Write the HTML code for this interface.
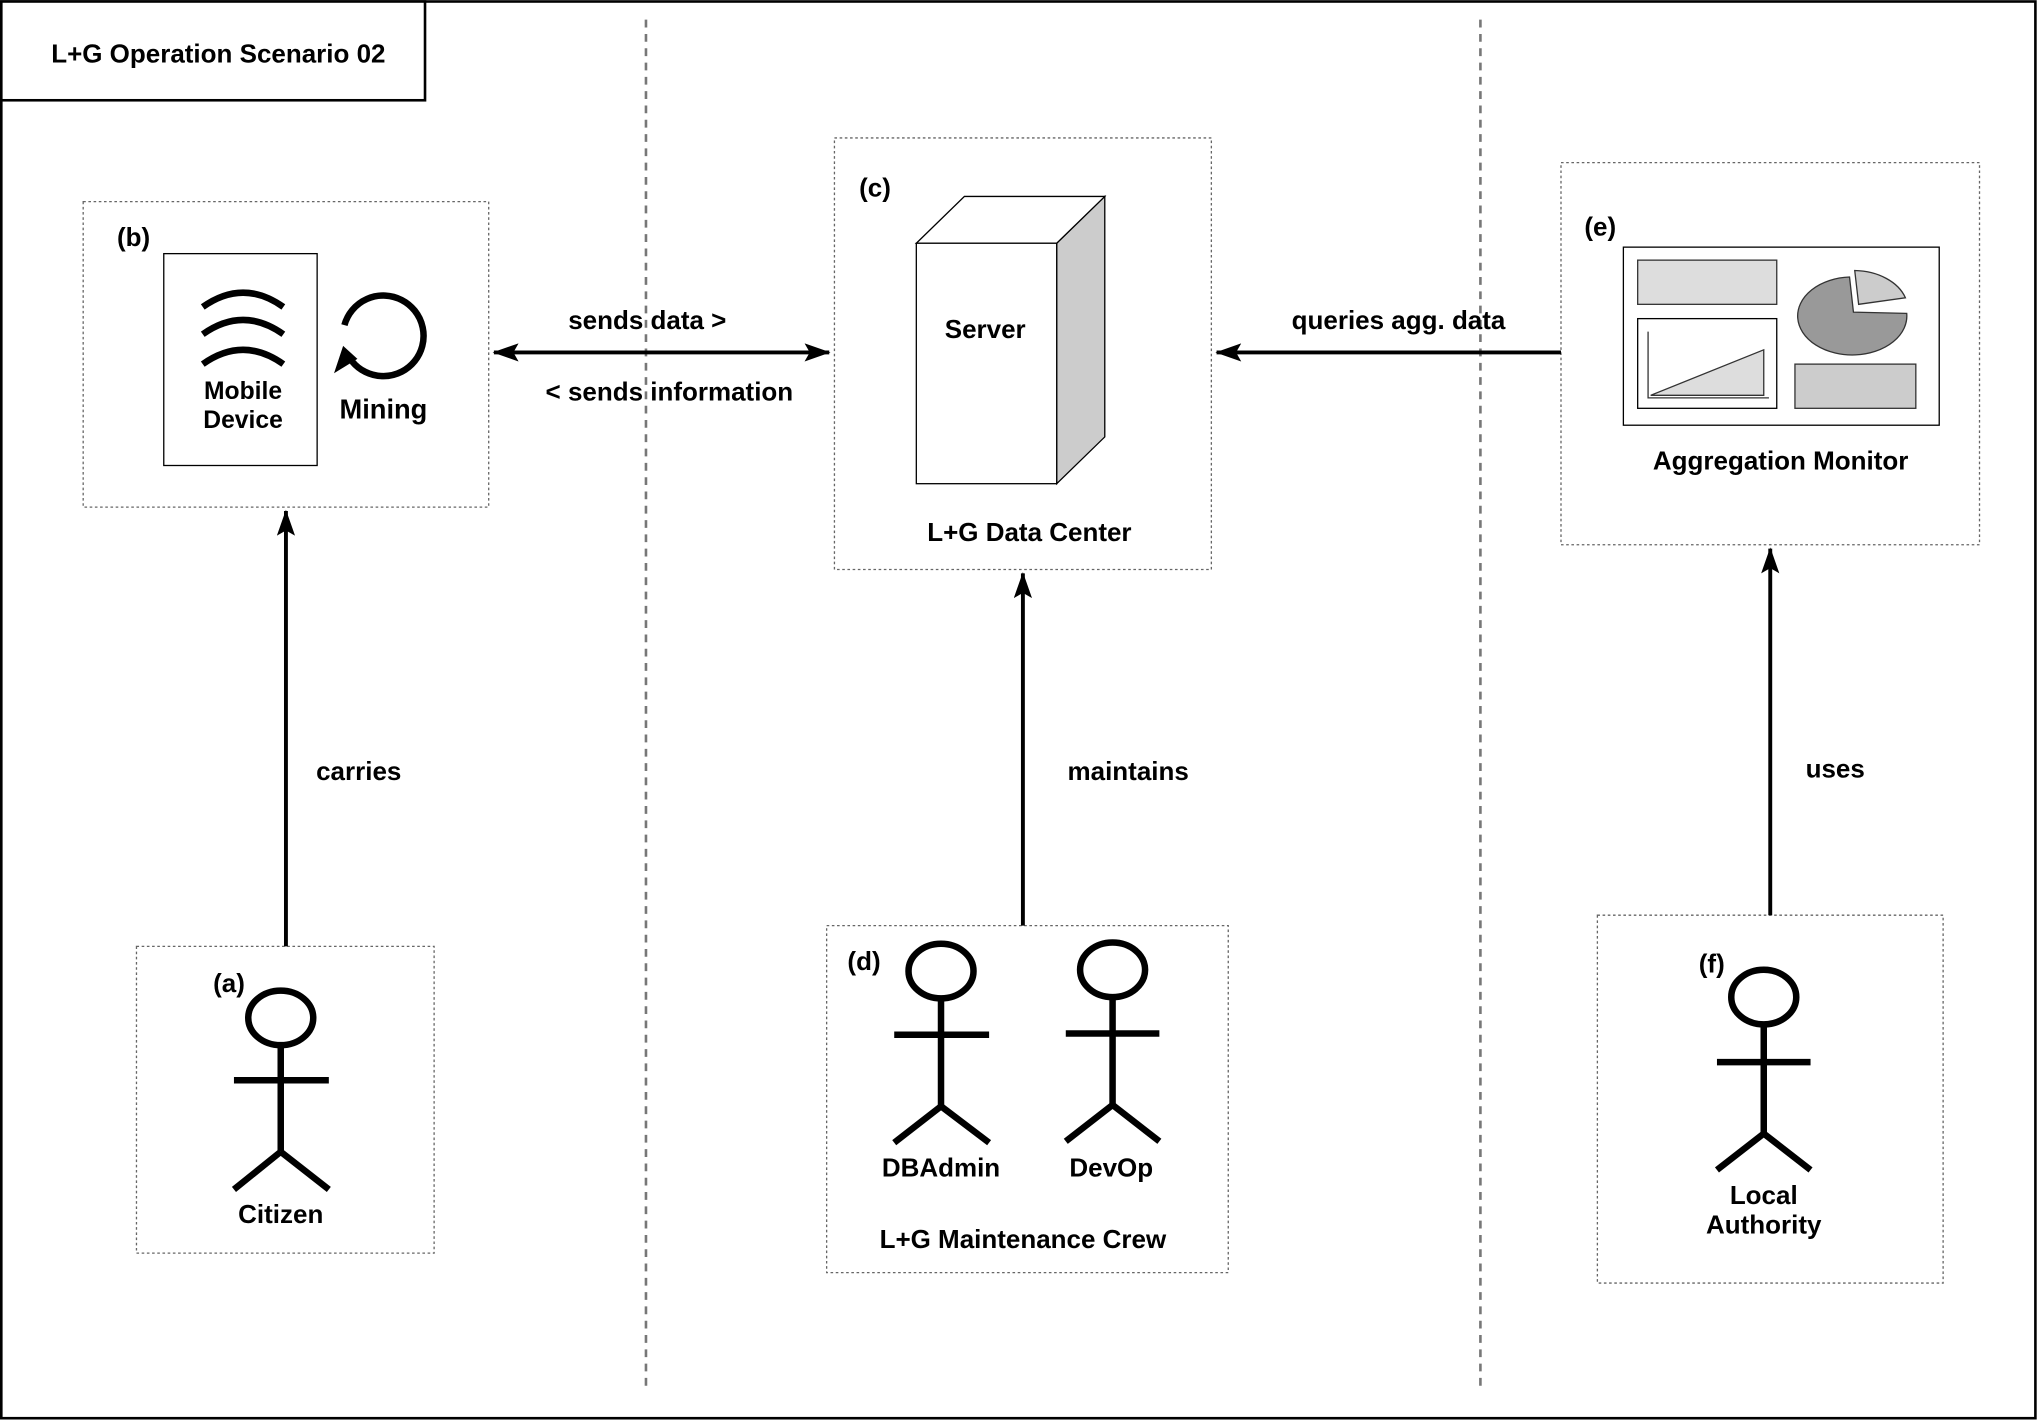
<!DOCTYPE html>
<html><head><meta charset="utf-8"><style>
html,body{margin:0;padding:0;background:#fff;}
svg{display:block;}
text{font-family:"Liberation Sans",Arial,sans-serif;font-weight:bold;fill:#000;}
</style></head><body>
<svg width="2038" height="1421" viewBox="0 0 1568 1093" xmlns="http://www.w3.org/2000/svg">
<defs>
<marker id="as" markerWidth="20" markerHeight="14" refX="19" refY="7" orient="auto" markerUnits="userSpaceOnUse">
<path d="M0,0 L20,7 L0,14 L4,7 z" fill="#000"/>
</marker>
<marker id="ass" markerWidth="20" markerHeight="14" refX="1" refY="7" orient="auto" markerUnits="userSpaceOnUse">
<path d="M20,0 L0,7 L20,14 L16,7 z" fill="#000"/>
</marker>
</defs>
<rect x="1" y="1" width="1565" height="1090" fill="#fff" stroke="#000" stroke-width="2"/>
<rect x="1" y="1" width="326" height="76" fill="#fff" stroke="#000" stroke-width="2"/>
<text x="168" y="48" font-size="20" text-anchor="middle">L+G Operation Scenario 02</text>
<line x1="497" y1="15" x2="497" y2="1070" stroke="#777" stroke-width="2" stroke-dasharray="6,5"/>
<line x1="1139" y1="15" x2="1139" y2="1070" stroke="#777" stroke-width="2" stroke-dasharray="6,5"/>

<g fill="#fff" stroke="#666" stroke-width="1" stroke-dasharray="2,2">
<rect x="64" y="155" width="312" height="235"/>
<rect x="642" y="106" width="290" height="332"/>
<rect x="1201" y="125" width="322" height="294"/>
<rect x="105" y="728" width="229" height="236"/>
<rect x="636" y="712" width="309" height="267"/>
<rect x="1229" y="704" width="266" height="283"/>
</g>

<text x="90" y="189" font-size="20">(b)</text>
<rect x="126" y="195" width="118" height="163" fill="#fff" stroke="#000" stroke-width="1"/>
<g fill="none" stroke="#000" stroke-width="5">
<path d="M156,236 Q187,214 218,236"/>
<path d="M156,257 Q187,235 218,257"/>
<path d="M156,280 Q187,258 218,280"/>
</g>
<text x="187" y="307" font-size="19" text-anchor="middle">Mobile</text>
<text x="187" y="329" font-size="19" text-anchor="middle">Device</text>
<path d="M265,250 A31,31 0 1 1 271,278" fill="none" stroke="#000" stroke-width="5"/>
<path d="M257,287 L264,266 L275,276 z" fill="#000"/>
<text x="295" y="322" font-size="21" text-anchor="middle">Mining</text>

<line x1="380" y1="271" x2="638" y2="271" stroke="#000" stroke-width="3" marker-end="url(#as)" marker-start="url(#ass)"/>
<text x="498" y="253" font-size="20" text-anchor="middle">sends data &gt;</text>
<text x="515" y="308" font-size="20" text-anchor="middle">&lt; sends information</text>
<line x1="1201" y1="271" x2="936" y2="271" stroke="#000" stroke-width="3" marker-end="url(#as)"/>
<text x="1076" y="253" font-size="20" text-anchor="middle">queries agg. data</text>
<line x1="220" y1="728" x2="220" y2="393" stroke="#000" stroke-width="3" marker-end="url(#as)"/>
<text x="276" y="600" font-size="20" text-anchor="middle">carries</text>
<line x1="787" y1="712" x2="787" y2="441" stroke="#000" stroke-width="3" marker-end="url(#as)"/>
<text x="868" y="600" font-size="20" text-anchor="middle">maintains</text>
<line x1="1362" y1="704" x2="1362" y2="422" stroke="#000" stroke-width="3" marker-end="url(#as)"/>
<text x="1412" y="598" font-size="20" text-anchor="middle">uses</text>

<text x="661" y="151" font-size="20">(c)</text>
<path d="M813,187 L850,151 L850,336 L813,372 z" fill="#ccc" stroke="#000" stroke-width="1"/>
<path d="M705,187 L742,151 L850,151 L813,187 z" fill="#fff" stroke="#000" stroke-width="1"/>
<rect x="705" y="187" width="108" height="185" fill="#fff" stroke="#000" stroke-width="1"/>
<text x="758" y="260" font-size="20" text-anchor="middle">Server</text>
<text x="792" y="416" font-size="20" text-anchor="middle">L+G Data Center</text>

<text x="1219" y="181" font-size="20">(e)</text>
<rect x="1249" y="190" width="243" height="137" fill="#fff" stroke="#000" stroke-width="1"/>
<rect x="1260" y="200" width="107" height="34" fill="#ddd" stroke="#333" stroke-width="1"/>
<rect x="1260" y="245" width="107" height="69" fill="#fff" stroke="#000" stroke-width="1"/>
<path d="M1268,255 L1268,306 L1361,306" fill="none" stroke="#333" stroke-width="1"/>
<path d="M1270,304 L1357,269 L1357,304 z" fill="#ddd" stroke="#333" stroke-width="1"/>
<path d="M1426,240 L1423,213 A42,30 0 1 0 1467,241 z" fill="#999" stroke="#333" stroke-width="1"/>
<path d="M1430,234 L1427,208 A42,30 0 0 1 1466,229 z" fill="#ccc" stroke="#333" stroke-width="1"/>
<rect x="1381" y="280" width="93" height="34" fill="#ccc" stroke="#333" stroke-width="1"/>
<text x="1370" y="361" font-size="20" text-anchor="middle">Aggregation Monitor</text>

<g fill="none" stroke="#000" stroke-width="5">
<ellipse cx="216" cy="783" rx="25" ry="21"/>
<line x1="216" y1="804" x2="216" y2="886"/><line x1="180" y1="831" x2="253" y2="831"/>
<line x1="216" y1="886" x2="180" y2="915"/><line x1="216" y1="886" x2="253" y2="915"/>
<ellipse cx="724" cy="747" rx="25" ry="21"/>
<line x1="724" y1="768" x2="724" y2="851"/><line x1="688" y1="796" x2="761" y2="796"/>
<line x1="724" y1="851" x2="688" y2="879"/><line x1="724" y1="851" x2="761" y2="879"/>
<ellipse cx="856" cy="746" rx="25" ry="21"/>
<line x1="856" y1="767" x2="856" y2="850"/><line x1="820" y1="795" x2="892" y2="795"/>
<line x1="856" y1="850" x2="820" y2="878"/><line x1="856" y1="850" x2="892" y2="878"/>
<ellipse cx="1357" cy="767" rx="25" ry="21"/>
<line x1="1357" y1="788" x2="1357" y2="872"/><line x1="1321" y1="817" x2="1393" y2="817"/>
<line x1="1357" y1="872" x2="1321" y2="900"/><line x1="1357" y1="872" x2="1393" y2="900"/>
</g>
<text x="164" y="763" font-size="20">(a)</text>
<text x="216" y="941" font-size="20" text-anchor="middle">Citizen</text>
<text x="652" y="746" font-size="20">(d)</text>
<text x="724" y="905" font-size="20" text-anchor="middle">DBAdmin</text>
<text x="855" y="905" font-size="20" text-anchor="middle">DevOp</text>
<text x="787" y="960" font-size="20" text-anchor="middle">L+G Maintenance Crew</text>
<text x="1307" y="748" font-size="20">(f)</text>
<text x="1357" y="926" font-size="20" text-anchor="middle">Local</text>
<text x="1357" y="949" font-size="20" text-anchor="middle">Authority</text>
</svg>
</body></html>
